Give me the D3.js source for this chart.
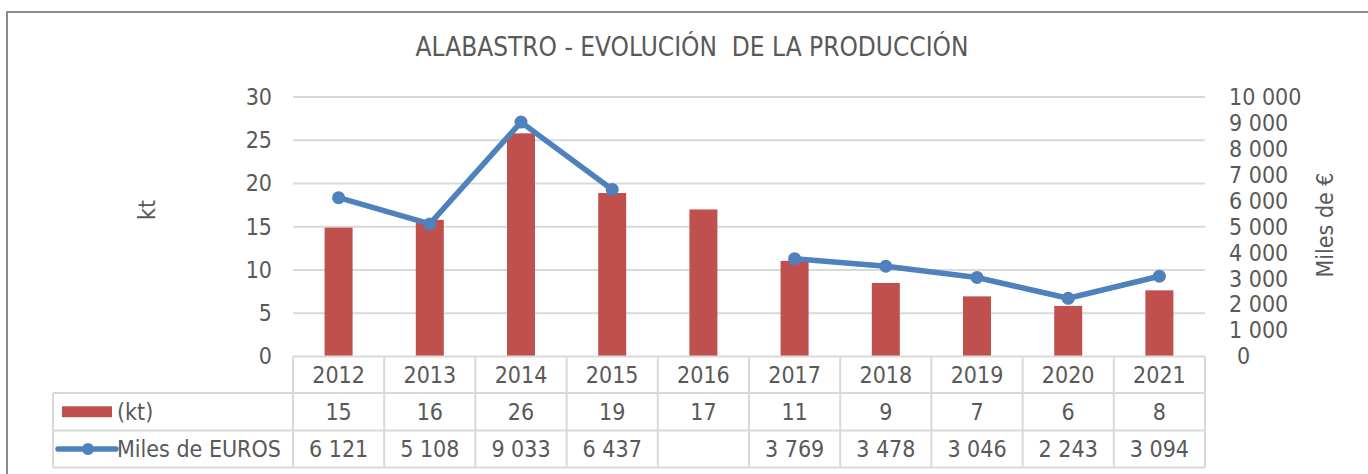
<!DOCTYPE html>
<html><head><meta charset="utf-8">
<script src="https://cdn.jsdelivr.net/npm/d3@7"></script>
<style>
html,body{margin:0;padding:0;background:#fff;}
svg text{font-family:'DejaVu Sans Condensed','DejaVu Sans',sans-serif;font-stretch:condensed;fill:#595959;white-space:pre;}
</style></head>
<body><svg id="c" width="1368" height="474"></svg>
<script>
const years = ["2012","2013","2014","2015","2016","2017","2018","2019","2020","2021"];
const ktValues = [14.9, 15.8, 25.8, 18.9, 17.0, 11.05, 8.5, 6.95, 5.85, 7.65];
const eurValues = [6121, 5108, 9033, 6437, null, 3769, 3478, 3046, 2243, 3094];
const leftTicks = [0, 5, 10, 15, 20, 25, 30];
const rightTicks = [0, 1000, 2000, 3000, 4000, 5000, 6000, 7000, 8000, 9000, 10000];
const title = "ALABASTRO - EVOLUCIÓN  DE LA PRODUCCIÓN";
const seriesNames = ["(kt)", "Miles de EUROS"];
const leftTitle = "kt", rightTitle = "Miles de €";

const svg = d3.select("#c");
const FS = 23;
const barColor = "#C0504D", lineColor = "#4F81BD", gridColor = "#d9d9d9";
const fmt = v => d3.format(",")(v).replace(/,/g, " ");

const x = d3.scaleBand().domain(years).range([293, 1205]).padding(0);
const yL = d3.scaleLinear().domain([0, 30]).range([356.5, 97]);
const yR = d3.scaleLinear().domain([0, 10000]).range([356.5, 97]);

// outer frame
svg.append("path").attr("d", "M7,480 V12 H1375").attr("fill", "none").attr("stroke", "#8c8c8c").attr("stroke-width", 2);

// title
svg.append("text").attr("x", 692).attr("y", 47).attr("dy", "0.36em").attr("text-anchor", "middle")
  .attr("font-size", 26).text(title);

// gridlines
svg.append("g").selectAll("line").data(leftTicks.filter(d => d > 0)).join("line")
  .attr("x1", x.range()[0]).attr("x2", x.range()[1])
  .attr("y1", d => yL(d)).attr("y2", d => yL(d))
  .attr("stroke", gridColor).attr("stroke-width", 2);

// left axis
const gL = svg.append("g").attr("transform", "translate(272,0)")
  .call(d3.axisLeft(yL).tickValues(leftTicks).tickSize(0).tickPadding(0));
gL.select(".domain").remove();
gL.selectAll("text").attr("font-size", FS).attr("fill", "#595959").attr("font-family", null);

// right axis
const gR = svg.append("g").attr("transform", "translate(1229,0)")
  .call(d3.axisRight(yR).tickValues(rightTicks).tickSize(0).tickPadding(0).tickFormat(fmt));
gR.select(".domain").remove();
gR.selectAll("text").attr("font-size", FS).attr("fill", "#595959").attr("font-family", null)
  .attr("dx", d => d === 0 ? 8 : 0);

// axis titles
svg.append("text").attr("transform", "translate(147,210) rotate(-90)").attr("dy", "0.36em")
  .attr("text-anchor", "middle").attr("font-size", FS).text(leftTitle);
svg.append("text").attr("transform", "translate(1325,225) rotate(-90)").attr("dy", "0.36em")
  .attr("text-anchor", "middle").attr("font-size", FS).text(rightTitle);

// bars
const bw = 28;
svg.append("g").selectAll("rect").data(years).join("rect")
  .attr("x", (d) => x(d) + x.bandwidth() / 2 - bw / 2)
  .attr("width", bw)
  .attr("y", (d, i) => yL(ktValues[i]))
  .attr("height", (d, i) => yL(0) - yL(ktValues[i]))
  .attr("fill", barColor);

// line
const pts = years.map((d, i) => ({ year: d, v: eurValues[i] }));
const line = d3.line().defined(d => d.v != null)
  .x(d => x(d.year) + x.bandwidth() / 2).y(d => yR(d.v));
svg.append("path").datum(pts).attr("d", line).attr("fill", "none")
  .attr("stroke", lineColor).attr("stroke-width", 5.5).attr("stroke-linejoin", "round");
svg.append("g").selectAll("circle").data(pts.filter(d => d.v != null)).join("circle")
  .attr("cx", d => x(d.year) + x.bandwidth() / 2).attr("cy", d => yR(d.v)).attr("r", 6.5)
  .attr("fill", lineColor);

// data table
const rowY = [356.5, 393, 430.5, 467.5];
const tbl = svg.append("g").attr("stroke", gridColor).attr("stroke-width", 2).attr("fill", "none");
tbl.append("line").attr("x1", 293).attr("x2", 1205).attr("y1", rowY[0]).attr("y2", rowY[0]);
[1, 2, 3].forEach(k => tbl.append("line").attr("x1", 53).attr("x2", 1205).attr("y1", rowY[k]).attr("y2", rowY[k]));
const colEdges = years.map(d => x(d)).concat([x.range()[1]]);
colEdges.forEach(cx => tbl.append("line").attr("x1", cx).attr("x2", cx).attr("y1", rowY[0]).attr("y2", rowY[3]));
tbl.append("line").attr("x1", 53).attr("x2", 53).attr("y1", rowY[1]).attr("y2", rowY[3]);

const mid = k => (rowY[k] + rowY[k + 1]) / 2;
svg.append("g").selectAll("text").data(years).join("text")
  .attr("x", d => x(d) + x.bandwidth() / 2).attr("y", mid(0)).attr("dy", "0.36em")
  .attr("text-anchor", "middle").attr("font-size", FS).text(d => d);
svg.append("g").selectAll("text").data(years).join("text")
  .attr("x", d => x(d) + x.bandwidth() / 2).attr("y", mid(1)).attr("dy", "0.36em")
  .attr("text-anchor", "middle").attr("font-size", FS).text((d, i) => Math.round(ktValues[i]));
svg.append("g").selectAll("text").data(years).join("text")
  .attr("x", d => x(d) + x.bandwidth() / 2).attr("y", mid(2)).attr("dy", "0.36em")
  .attr("text-anchor", "middle").attr("font-size", FS).text((d, i) => eurValues[i] == null ? "" : fmt(eurValues[i]));

// legend keys
svg.append("rect").attr("x", 62).attr("y", mid(1) - 5.5).attr("width", 50).attr("height", 11).attr("fill", barColor);
svg.append("text").attr("x", 117).attr("y", mid(1)).attr("dy", "0.36em").attr("font-size", FS).text(seriesNames[0]);
svg.append("line").attr("x1", 58).attr("x2", 116).attr("y1", mid(2)).attr("y2", mid(2))
  .attr("stroke", lineColor).attr("stroke-width", 5.5).attr("stroke-linecap", "round");
svg.append("circle").attr("cx", 88).attr("cy", mid(2)).attr("r", 6).attr("fill", lineColor);
svg.append("text").attr("x", 117).attr("y", mid(2)).attr("dy", "0.36em").attr("font-size", FS).text(seriesNames[1]);
</script></body></html>
